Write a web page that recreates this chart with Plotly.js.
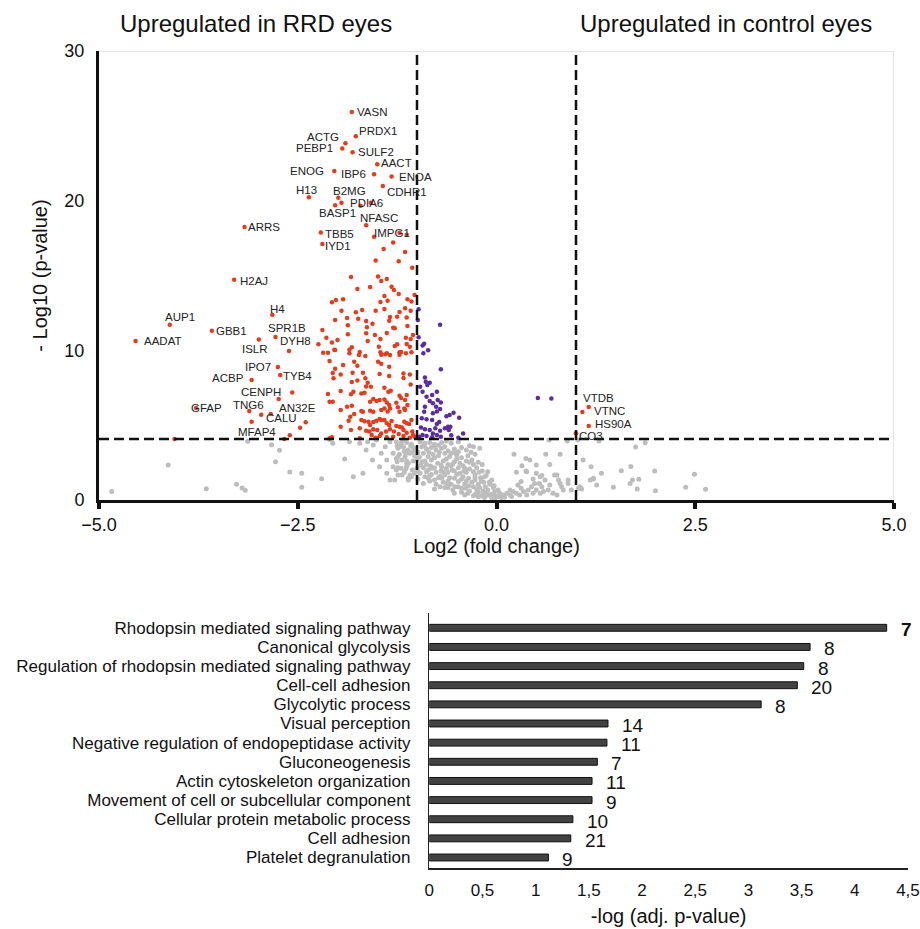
<!DOCTYPE html>
<html><head><meta charset="utf-8">
<script src="https://cdn.plot.ly/plotly-3.0.1.min.js"></script>
<style>html,body{margin:0;padding:0;background:#fff}#chart{width:920px;height:929px}</style>
</head><body><div id="chart"></div>
<script>
// ---------- Volcano plot data ----------
const geneNames = ['VASN','PRDX1','ACTG','PEBP1','SULF2','AACT','ENOG','IBP6','ENOA','CDHR1','H13','B2MG','BASP1','PDIA6','NFASC','IMPG1','ARRS','TBB5','IYD1','H2AJ','H4','AUP1','GBB1','AADAT','SPR1B','ISLR','DYH8','IPO7','TYB4','ACBP','CENPH','AN32E','GFAP','TNG6','CALU','MFAP4','VTDB','VTNC','HS90A','CO3'];
const geneLog2FC = [-1.82,-1.77,-1.90,-1.94,-1.81,-1.50,-2.04,-1.54,-1.32,-1.43,-2.36,-1.99,-2.03,-1.58,-1.64,-1.54,-3.17,-2.21,-2.19,-3.30,-2.82,-4.11,-3.58,-4.54,-2.78,-2.99,-2.61,-2.75,-2.72,-3.08,-2.57,-2.74,-3.78,-3.11,-2.84,-3.08,1.08,1.16,1.16,1.00];
const geneLogP = [25.92,24.30,23.83,23.49,23.23,22.44,21.98,21.76,21.62,20.98,20.22,20.19,19.69,19.86,18.35,17.59,18.24,17.88,17.10,14.72,12.38,11.71,11.31,10.62,10.89,10.73,9.95,8.88,8.35,8.02,7.19,6.75,6.15,5.95,5.74,5.23,5.88,6.21,4.94,4.46];

const redPoints = [
[-1.71,19.66],[-1.95,19.86],[-1.22,17.86],[-1.13,17.72],[-1.30,17.21],[-1.42,16.77],[-1.15,16.57],[-1.52,16.01],[-1.23,15.95],[-1.06,15.52],[-1.83,14.90],[-1.49,14.94],[-1.45,14.63],[-1.38,14.76],
[-1.75,14.09],[-1.59,14.23],[-1.32,14.25],[-1.29,14.03],[-1.41,13.63],[-1.23,13.76],[-1.03,13.69],[-2.07,13.21],[-2.02,13.36],[-1.93,13.41],[-1.46,13.23],[-1.37,13.31],[-1.12,13.41],[-1.07,13.27],
[-1.95,12.65],[-1.77,12.54],[-1.69,12.69],[-1.52,12.65],[-1.41,12.76],[-1.22,12.56],[-1.25,12.24],[-1.15,12.81],[-1.08,12.65],[-2.03,12.02],[-1.88,12.16],[-1.74,12.11],[-1.64,11.96],[-1.56,11.78],
[-1.34,12.22],[-1.35,11.98],[-1.13,12.20],[-2.19,11.36],[-1.87,11.67],[-1.63,11.54],[-1.30,11.51],[-1.28,11.47],[-1.12,11.62],[-2.14,10.84],[-2.07,10.53],[-2.00,10.69],[-1.87,11.07],[-1.64,11.14],
[-1.62,10.62],[-1.53,11.02],[-1.46,10.75],[-1.38,11.16],[-1.14,10.84],[-1.08,10.75],[-1.05,11.02],[-2.24,10.40],[-2.04,10.04],[-1.85,10.04],[-1.82,10.20],[-1.72,9.89],[-1.48,10.24],[-1.46,9.87],
[-1.38,9.80],[-1.28,10.29],[-1.25,10.40],[-1.22,9.87],[-1.13,10.42],[-1.09,10.24],[-1.07,9.87],
[-2.96,5.70],[-2.40,5.19],[-2.47,4.83],[-2.60,4.32],[-2.67,4.07],[-4.05,4.07],
[-2.18,9.84],[-2.12,9.84],[-2.03,10.02],[-1.85,9.80],[-1.73,9.69],[-1.65,9.62],[-1.45,9.71],[-1.40,9.73],[-1.34,9.69],[-1.22,9.71],[-1.20,9.89],[-1.14,9.80],
[-2.10,9.28],[-1.93,9.02],[-1.79,9.24],[-1.75,8.97],[-1.49,9.24],[-1.45,9.11],[-1.35,8.91],
[-2.03,8.77],[-2.06,8.48],[-1.96,8.39],[-2.05,8.13],[-1.81,8.50],[-1.82,7.88],[-1.68,8.50],[-1.75,7.99],[-1.65,8.13],[-1.62,7.84],[-1.58,7.57],[-1.64,7.59],[-1.47,8.42],[-1.35,8.28],[-1.17,8.46],[-1.17,8.15],[-1.09,8.39],[-1.08,7.72],
[-2.12,7.08],[-1.96,7.28],[-1.83,7.06],[-1.80,7.24],[-1.70,7.12],[-1.66,7.17],[-1.41,7.50],[-1.36,7.24],[-1.33,7.30],
[-1.55,6.74],[-1.59,6.57],[-1.51,6.61],[-1.47,6.68],[-1.41,6.72],[-1.38,6.52],[-1.35,6.34],[-1.26,6.50],[-1.22,6.97],[-1.20,6.81],[-1.15,6.68],[-1.13,7.01],[-1.12,6.34],[-2.10,6.57],[-2.06,6.57],
[-1.96,6.01],[-1.88,6.23],[-1.82,6.30],[-1.70,5.95],[-1.68,5.90],[-1.59,5.97],[-1.55,5.90],[-1.45,6.01],[-1.41,6.12],[-1.37,5.92],[-1.34,6.12],[-1.24,6.19],[-1.22,5.90],[-1.16,6.12],[-1.15,6.01],
[-1.84,5.57],[-1.79,5.75],[-1.86,5.30],[-1.70,5.34],[-1.66,5.26],[-1.61,5.23],[-1.59,5.01],[-1.55,5.21],[-1.51,5.30],[-1.47,5.41],[-1.45,5.34],[-1.41,5.34],[-1.38,5.12],[-1.35,5.01],[-1.32,5.28],
[-1.26,4.94],[-1.22,4.90],[-1.19,4.85],[-1.16,5.23],[-1.13,5.12],[-1.10,5.08],[-1.07,5.34],
[-1.96,4.90],[-1.83,4.68],[-1.72,4.79],[-1.64,4.63],[-1.60,4.57],[-1.55,4.72],[-1.50,4.68],[-1.45,4.45],[-1.39,4.57],[-1.34,4.72],[-1.29,4.57],[-1.23,4.41],[-1.17,4.68],[-1.13,4.50],[-1.06,4.57],[-1.05,4.34],
[-2.10,4.12],[-2.07,4.19],[-1.72,4.12],[-1.57,4.34],[-1.52,4.16],[-1.47,4.27],[-1.38,4.19],[-1.30,4.23],[-1.17,4.27],[-1.09,4.16],[-1.03,4.23]
];

const purplePoints = [
[-0.98,12.74],[-0.99,12.02],[-0.71,11.71],[-0.98,10.87],[-0.91,10.44],[-0.93,10.33],[-0.86,10.00],
[-0.92,9.80],[-0.70,8.73],[-0.90,8.19],[-0.84,7.84],[-0.89,7.90],[-0.87,7.68],[-0.96,7.57],[-0.93,7.24],[-0.88,6.90],[-0.81,7.01],[-0.75,7.24],[-0.84,6.61],[-0.80,6.46],[-0.74,6.68],[-0.70,6.52],
[-0.76,6.23],[-0.90,6.23],[-0.91,5.90],[-0.80,5.79],[-0.75,5.92],[-0.71,6.08],[-0.54,5.83],[-0.63,5.59],[-0.94,5.46],[-0.88,5.39],[-0.81,5.34],[-0.75,5.08],[-0.72,5.21],[-0.58,4.90],
[-0.95,4.85],[-0.90,4.72],[-0.84,4.68],[-0.80,4.45],[-0.77,4.79],[-0.71,4.63],[-0.62,4.81],[-0.97,4.23],[-0.93,4.34],[-0.88,4.27],[-0.81,4.19],[-0.75,4.34],[-0.70,4.23],[-0.57,4.32],
[0.52,6.81],[0.69,6.79],[-0.42,4.45],[-0.48,4.16],[-0.61,4.90],[-0.59,5.68],[-0.47,5.50],[-0.60,4.68],[-0.65,4.79]
];

const greyPoints = [
[-1.26,3.90],[-1.20,3.79],[-1.13,3.85],[-1.07,3.72],[-0.96,3.90],[-0.90,3.79],[-0.84,3.85],[-0.78,3.72],[-0.69,3.85],[-0.63,3.94],[-0.57,3.79],[-0.48,3.90],
[-1.24,3.45],[-1.17,3.56],[-1.11,3.34],[-1.05,3.50],[-0.94,3.56],[-0.88,3.41],[-0.82,3.50],[-0.76,3.34],[-0.69,3.45],[-0.61,3.27],[-0.53,3.41],[-0.44,3.50],[-0.38,3.34],
[-1.22,3.05],[-1.15,2.90],[-1.09,3.12],[-1.03,2.96],[-0.92,3.12],[-0.86,2.90],[-0.80,3.05],[-0.73,2.96],[-0.65,3.12],[-0.59,2.90],[-0.50,3.01],[-0.44,2.83],[-0.36,2.96],[-0.27,3.05],
[-1.25,2.56],[-1.19,2.67],[-1.11,2.45],[-1.05,2.60],[-0.94,2.56],[-0.88,2.38],[-0.82,2.67],[-0.74,2.45],[-0.67,2.60],[-0.61,2.38],[-0.53,2.56],[-0.46,2.45],[-0.38,2.60],[-0.29,2.38],[-0.23,2.52],
[-1.20,2.12],[-1.13,2.23],[-1.06,2.00],[-0.92,2.16],[-0.86,2.00],[-0.78,2.16],[-0.70,1.94],[-0.63,2.12],[-0.56,2.00],[-0.48,2.16],[-0.41,1.94],[-0.34,2.07],[-0.25,2.16],[-0.18,1.94],
[-1.24,1.67],[-1.09,1.67],[-1.03,1.78],[-0.90,1.56],[-0.82,1.71],[-0.73,1.49],[-0.65,1.67],[-0.59,1.49],[-0.50,1.71],[-0.42,1.56],[-0.35,1.45],[-0.27,1.67],[-0.20,1.49],[-0.13,1.63],
[-0.92,1.11],[-0.84,1.27],[-0.76,1.05],[-0.67,1.18],[-0.57,1.05],[-0.48,1.23],[-0.40,1.05],[-0.31,1.18],[-0.23,1.05],[-0.16,1.18],[-0.08,1.05],
[-0.78,0.74],[-0.65,0.83],[-0.55,0.67],[-0.44,0.78],[-0.34,0.60],[-0.25,0.74],[-0.17,0.60],[-0.11,0.67],[-0.02,0.56],
[-0.40,0.33],[-0.29,0.29],[-0.19,0.29],[-0.11,0.33],[-0.02,0.27],[0.06,0.29],
[-1.25,3.62],[-1.16,3.27],[-1.08,3.62],[-0.99,3.19],[-0.91,3.62],[-0.85,3.19],[-0.78,3.62],[-0.72,3.19],[-0.65,3.56],[-0.57,3.12],[-0.48,3.23],[-0.32,3.19],
[-1.26,2.78],[-1.13,2.60],[-1.00,2.74],[-0.90,2.60],[-0.78,2.83],[-0.70,2.34],[-0.63,2.74],[-0.57,2.29],[-0.50,2.74],[-0.42,2.29],[-0.34,2.52],[-0.18,2.38],
[-1.24,2.16],[-1.16,1.85],[-1.00,2.12],[-0.96,1.78],[-0.88,1.89],[-0.81,2.12],[-0.76,1.85],[-0.67,1.89],[-0.61,1.85],[-0.53,1.94],[-0.46,1.78],[-0.38,1.85],[-0.29,1.89],[-0.22,1.85],[-0.11,1.89],
[-1.11,1.45],[-0.99,1.40],[-0.86,1.45],[-0.78,1.34],[-0.69,1.45],[-0.61,1.27],[-0.53,1.45],[-0.44,1.40],[-0.38,1.27],[-0.27,1.34],[-0.19,1.27],[-0.06,1.34],
[-0.71,0.89],[-0.61,0.83],[-0.48,0.89],[-0.39,0.78],[-0.29,0.89],[-0.21,0.83],[-0.14,0.89],[-0.04,0.83],[0.02,0.67],
[-0.53,0.45],[-0.44,0.51],[-0.36,0.45],[-0.23,0.51],[-0.15,0.45],[-0.06,0.38],[-0.23,0.22],[-0.15,0.16],[-0.06,0.16],[0.02,0.22],[-0.02,0.11],
[-3.13,3.92],[-2.83,3.69],[-2.73,3.32],[-2.78,2.56],[-4.13,2.34],[-4.84,0.56],[-3.65,0.76],[-3.27,1.05],[-3.20,0.80],[-3.16,0.65],[-2.60,1.87],[-2.45,1.78],[-2.45,0.85],[-2.20,1.42],
[-2.10,4.05],[-2.06,3.79],[-1.91,2.74],[-1.80,1.56],[-1.68,1.78],[-1.64,3.34],[-1.55,3.67],[-1.47,2.22],[-1.38,2.67],[-1.34,1.34],[-1.30,3.12],[-1.26,2.00],[-1.22,3.56],[-1.13,2.45],[-1.07,1.56],
[-1.72,3.79],[-1.85,3.90],[-1.62,3.90],[-1.51,4.01],[-1.40,3.56],[-1.34,3.90],[-1.30,2.22],[-1.24,2.89],[-1.19,1.67],[-1.14,3.12],[-1.11,1.34],[-1.38,1.78],[-1.45,3.12],[-1.56,2.67],[-1.28,1.34],
[0.22,3.05],[0.37,2.78],[0.42,2.67],[0.32,2.29],[0.38,1.89],[0.50,2.34],[0.67,2.38],[0.80,3.05],[0.89,3.94],[0.66,4.01],[1.02,4.01],[0.55,1.56],[0.61,1.34],[0.46,1.40],[0.76,1.67],[0.78,1.34],
[0.82,0.89],[0.67,1.00],[0.90,1.11],[0.94,0.67],[1.03,0.78],[1.05,0.89],[1.22,1.45],[1.26,1.00],[0.27,1.00],[0.31,0.78],[0.34,0.56],[0.40,0.67],[0.44,0.89],[0.50,0.67],[0.55,0.45],[0.59,0.56],
[0.65,0.67],[0.71,0.45],[0.76,0.33],[0.17,0.67],[0.21,0.56],[0.08,0.33],[0.04,0.29],[0.13,0.45],[0.25,0.45],[0.00,0.22],[-0.06,0.22],[0.48,1.11],[0.54,1.11],[0.38,0.33],[0.46,0.45],[0.29,0.33],
[0.17,0.33],[-0.04,0.16],[0.06,0.16],[0.31,1.23],[0.57,0.89],
[1.19,2.22],[1.22,1.40],[1.18,1.34],[1.32,1.78],[1.47,0.85],[1.57,1.96],[1.69,2.23],[1.71,1.34],[1.68,1.11],[1.75,3.54],[1.77,0.73],[1.79,1.38],[1.87,3.83],[1.99,1.94],[2.00,0.62],[2.38,0.85],
[2.49,1.72],[2.63,0.71],[1.29,3.94],[0.62,3.05],[0.25,1.85],[0.37,1.94],[0.50,1.78],[0.57,1.63],[0.73,1.67],[0.80,1.11],[0.84,0.67],[0.90,1.34],[1.07,0.73],[1.09,2.67],[-0.34,3.63],[-0.29,3.56],[-0.21,3.45],
[-1.18,3.98],[-1.02,3.40],[-0.97,2.88],[-1.14,2.08],[-0.95,2.30],[-0.83,2.28],[-0.69,2.20],[-0.55,2.40],[-0.40,2.12],[-0.31,2.68],[-0.27,1.48],[-0.15,1.55],[-0.09,1.18],[-0.03,0.95],
[-0.71,1.58],[-0.62,1.08],[-0.52,0.88],[-0.35,0.95],[-0.26,0.42],[-0.12,0.50],[0.04,0.45],[0.10,0.18],[0.19,0.24],[-0.84,1.62],[-0.99,1.92],[-1.05,3.20],[-0.73,3.65],[-0.52,3.15]
];

const fcCutoff = 1;
const pCutoff = 4.07;

// ---------- GO enrichment data ----------
const goTerms = ['Rhodopsin mediated signaling pathway','Canonical glycolysis','Regulation of rhodopsin mediated signaling pathway','Cell-cell adhesion','Glycolytic process','Visual perception','Negative regulation of endopeptidase activity','Gluconeogenesis','Actin cytoskeleton organization','Movement of cell or subcellular component','Cellular protein metabolic process','Cell adhesion','Platelet degranulation'];
const goNegLogP = [4.30,3.58,3.52,3.46,3.12,1.68,1.67,1.58,1.53,1.53,1.35,1.33,1.12];
const goCounts = [7,8,8,20,8,14,11,7,11,9,10,21,9];
const goTickVals = [0,0.5,1,1.5,2,2.5,3,3.5,4,4.5];
const goTickText = ['0','0,5','1','1,5','2','2,5','3','3,5','4','4,5'];

// ---------- label placement (style only) ----------
const labelPlacement = {
 VASN:['left',4,0], PRDX1:['left',2,5], ACTG:['right',-5,6], PEBP1:['right',-8,0], SULF2:['left',4,0],
 AACT:['left',3,1], ENOG:['right',-9,0], IBP6:['right',-7,0], ENOA:['left',6,-1], CDHR1:['left',3,-6],
 H13:['center',-2,7], B2MG:['left',-6,7], BASP1:['center',2,-8], PDIA6:['center',-4,0], NFASC:['left',-7,7],
 IMPG1:['left',-1,4], ARRS:['left',3,0], TBB5:['left',3,-2], IYD1:['left',2,-2], H2AJ:['left',5,-1],
 H4:['left',-3,6], AUP1:['center',10,8], GBB1:['left',3,0], AADAT:['left',7,0], SPR1B:['left',-8,9],
 ISLR:['center',-4,-10], DYH8:['left',-10,10], IPO7:['right',-6,0], TYB4:['left',2,-1], ACBP:['right',-7,2],
 CENPH:['right',-10,0], AN32E:['left',-1,-9], GFAP:['left',-6,0], TNG6:['center',-1,6], CALU:['left',-6,-4],
 MFAP4:['center',5,-10], VTDB:['left',0,14], VTNC:['left',4,-4], HS90A:['left',5,2], CO3:['left',2,-3]
};

const FONT = 'Liberation Sans, Arial, Helvetica, sans-serif';
const RED = '#e63b1d', PURPLE = '#5a2ca4', GREY = '#bdbdbd';

const traces = [
 {type:'scatter', mode:'markers', x:greyPoints.map(p=>p[0]), y:greyPoints.map(p=>p[1]),
  marker:{color:GREY, size:5}, hoverinfo:'skip', xaxis:'x', yaxis:'y', showlegend:false},
 {type:'scatter', mode:'markers', x:purplePoints.map(p=>p[0]), y:purplePoints.map(p=>p[1]),
  marker:{color:PURPLE, size:4.5}, xaxis:'x', yaxis:'y', showlegend:false},
 {type:'scatter', mode:'markers', x:redPoints.map(p=>p[0]), y:redPoints.map(p=>p[1]),
  marker:{color:RED, size:4.5}, xaxis:'x', yaxis:'y', showlegend:false},
 {type:'scatter', mode:'markers', x:geneLog2FC, y:geneLogP, text:geneNames,
  marker:{color:RED, size:4.5}, xaxis:'x', yaxis:'y', showlegend:false},
 {type:'bar', orientation:'h', x:goNegLogP, y:goTerms, xaxis:'x2', yaxis:'y2', width:0.36,
  marker:{color:'#424242', line:{color:'#111', width:1}}, showlegend:false}
];

const annotations = [];
geneNames.forEach((g,i)=>{
  const p = labelPlacement[g] || ['left',3,0];
  annotations.push({x:geneLog2FC[i], y:geneLogP[i], xref:'x', yref:'y', text:g, showarrow:false,
    xanchor:p[0], yanchor:'middle', xshift:p[1], yshift:p[2], borderpad:0,
    font:{family:FONT, size:11.5, color:'#222'}});
});
goTerms.forEach((t,i)=>{
  annotations.push({x:goNegLogP[i], y:t, xref:'x2', yref:'y2',
    text: i===0 ? '<b>'+goCounts[i]+'</b>' : String(goCounts[i]), showarrow:false,
    xanchor:'left', yanchor:'middle', xshift:12, yshift:-2,
    font:{family:FONT, size:19, color:'#111'}});
});
annotations.push({x:256/920, y:(929-23)/929, xref:'paper', yref:'paper', text:'Upregulated in RRD eyes',
  showarrow:false, xanchor:'center', yanchor:'middle', font:{family:FONT, size:24, color:'#111'}});
annotations.push({x:726/920, y:(929-23)/929, xref:'paper', yref:'paper', text:'Upregulated in control eyes',
  showarrow:false, xanchor:'center', yanchor:'middle', font:{family:FONT, size:24, color:'#111'}});

const dash = {color:'#111', width:2.5, dash:'10px,5px'};
const shapes = [
 {type:'line', xref:'x', yref:'y', x0:-5, x1:5, y0:30, y1:30, line:{color:'#e4e4e4', width:2}, layer:'below'},
 {type:'line', xref:'x', yref:'y', x0:5, x1:5, y0:0, y1:30, line:{color:'#e4e4e4', width:2}, layer:'below'},
 {type:'line', xref:'x', yref:'y', x0:-fcCutoff, x1:-fcCutoff, y0:0, y1:30, line:dash},
 {type:'line', xref:'x', yref:'y', x0:fcCutoff, x1:fcCutoff, y0:0, y1:30, line:dash},
 {type:'line', xref:'x', yref:'y', x0:-5, x1:5, y0:pCutoff, y1:pCutoff, line:dash}
];

const layout = {
  width:920, height:929, margin:{l:0, r:0, t:0, b:0},
  paper_bgcolor:'#fff', plot_bgcolor:'rgba(0,0,0,0)',
  font:{family:FONT, color:'#111'},
  showlegend:false, hovermode:'closest',
  xaxis:{domain:[99/920, 894/920], range:[-5,5], anchor:'y',
    tickvals:[-5,-2.5,0,2.5,5], ticktext:['\u22125.0','\u22122.5','0.0','2.5','5.0'],
    ticks:'outside', ticklen:6, tickwidth:4, tickcolor:'#111',
    showline:true, linewidth:3, linecolor:'#111', showgrid:false, zeroline:false,
    tickfont:{size:18, family:FONT, color:'#111'},
    title:{text:'Log2 (fold change)', font:{size:20, family:FONT, color:'#111'}, standoff:6}},
  yaxis:{domain:[(929-500)/929, (929-51)/929], range:[0,30], anchor:'x',
    tickvals:[0,10,20,30], ticks:'', showline:true, linewidth:3, linecolor:'#111',
    showgrid:false, zeroline:false, ticklabelstandoff:8,
    tickfont:{size:18, family:FONT, color:'#111'},
    title:{text:'- Log10 (p-value)', font:{size:20, family:FONT, color:'#111'}, standoff:12}},
  xaxis2:{domain:[429.3/920, 908/920], range:[0,4.5005], anchor:'y2',
    tickmode:'array', tickvals:goTickVals, ticktext:goTickText, ticks:'', showline:true, linewidth:1.5, linecolor:'#222',
    showgrid:false, zeroline:false, ticklabelstandoff:6, ticklabeloverflow:'allow',
    tickfont:{size:17, family:FONT, color:'#111'},
    title:{text:'-log (adj. p-value)', font:{size:20, family:FONT, color:'#111'}, standoff:10}},
  yaxis2:{domain:[(929-868)/929, (929-613.3)/929], anchor:'x2', type:'category',
    autorange:'reversed', tickmode:'array', tickvals:goTerms, ticktext:goTerms,
    ticks:'', showline:true, linewidth:1.5, linecolor:'#222',
    showgrid:false, zeroline:false, ticklabelstandoff:14,
    tickfont:{size:17, family:FONT, color:'#111'}},
  annotations:annotations, shapes:shapes
};

Plotly.newPlot('chart', traces, layout, {displayModeBar:false, staticPlot:true});
</script></body></html>
